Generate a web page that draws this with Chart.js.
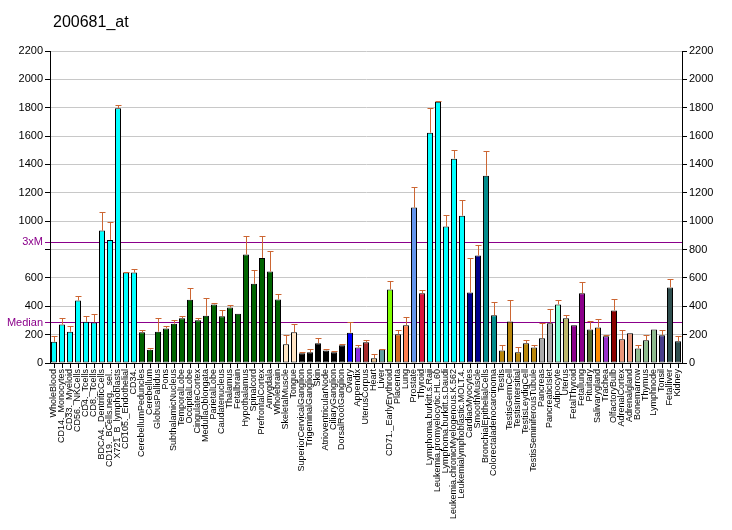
<!DOCTYPE html>
<html>
<head>
<meta charset="utf-8">
<script src="https://cdn.jsdelivr.net/npm/chart.js@4"></script>
<style>
  html, body { margin: 0; padding: 0; background: #fff; }
</style>
</head>
<body>
<canvas id="myChart" width="732" height="530"></canvas>
<script>
const chartTitle = "200681_at";

const labels = [
  "WholeBlood", "CD14._Monocytes", "CD33._Myeloid", "CD56._NKCells", "CD4._Tcells", "CD8._Tcells",
  "BDCA4._DentriticCells", "CD19._BCells.neg._sel..", "X721_B_lymphoblasts", "CD105._Endothelial", "CD34.",
  "CerebellumPeduncles", "Cerebellum", "GlobusPallidus", "Pons", "SubthalamicNucleus", "TemporalLobe",
  "OccipitalLobe", "CingulateCortex", "MedullaOblongata", "ParietalLobe", "Caudatenucleus", "Thalamus",
  "Fetalbrain", "Hypothalamus", "Spinalcord", "PrefrontalCortex", "Amygdala", "Wholebrain",
  "SkeletalMuscle", "Tongue",
  "SuperiorCervicalGanglion", "TrigeminalGanglion", "Skin", "AtrioventricularNode", "CiliaryGanglion", "DorsalRootGanglion",
  "Ovary", "Appendix", "UterusCorpus", "Heart", "Liver", "CD71._EarlyErythroid", "Placenta", "Lung", "Prostate", "Thyroid",
  "Lymphoma.burkitt.s.Raji", "Leukemia.promyelocytic.HL.60", "Lymphoma.burkitt.s.Daudi",
  "Leukemia.chronicMyelogenous.K.562", "Leukemialymphoblastic.MOLT.4.",
  "CardiacMyocytes", "SmoothMuscle", "BronchialEpithelialCells", "Colorectaladenocarcinoma",
  "Testis", "TestisGermCell", "TestisIntersitial", "TestisLeydigCell", "TestisSeminiferousTubule",
  "Pancreas", "PancreaticIslet", "Adipocyte", "Uterus", "FetalThyroid", "Fetallung", "Pituitary",
  "Salivarygland", "Trachea", "OlfactoryBulb", "AdrenalCortex", "Adrenalgland", "Bonemarrow",
  "Thymus", "Lymphnode", "Tonsil", "Fetalliver", "Kidney"
];

const values = [
  150, 272, 221, 441, 291, 286, 934, 868, 1797, 638, 638,
  216, 94, 221, 244, 277, 315, 446, 301, 333, 413, 329, 392, 347, 765, 559, 741, 645, 448,
  132, 216,
  68, 75, 139, 89, 75, 125,
  214, 110, 146, 33, 96, 519, 202, 266, 1096, 491,
  1624, 1842, 962, 1441, 1039,
  497, 758, 1321, 336,
  89, 293, 75, 139, 110,
  174, 280, 413, 315, 266, 491, 237, 251, 188, 371, 167, 209, 103, 160, 237, 195, 533, 153
];

// upper end of each error bar
const errHigh = [
  193, 320, 263, 474, 333, 348, 1065, 995, 1820, 645, 661,
  230, 108, 315, 263, 301, 333, 531, 315, 455, 422, 371, 410, 347, 896, 657, 896, 791, 488,
  195, 272,
  75, 101, 179, 96, 87, 132,
  291, 129, 165, 61, 101, 575, 230, 322, 1244, 512,
  1800, 1849, 1046, 1504, 1152,
  737, 835, 1497, 427,
  125, 441, 110, 160, 125,
  280, 378, 441, 336, 266, 568, 294, 308, 195, 448, 230, 209, 125, 195, 237, 230, 589, 188
];

const median = 283;
const threeXM = 850;
const yTicks = [0, 200, median, 400, 600, 800, threeXM, 1000, 1200, 1400, 1600, 1800, 2000, 2200];

// colour runs: [count, colour]
const colorRuns = [
  [11, "#00FFFF"], [18, "#006400"], [2, "#FFE4C4"], [6, "#000000"],
  [1, "#0000FF"], [1, "#8A2BE2"], [1, "#A52A2A"], [1, "#DEB887"], [1, "#5F9EA0"],
  [1, "#7FFF00"], [1, "#D2691E"], [1, "#FF7F50"], [1, "#6495ED"], [1, "#DC143C"],
  [5, "#00FFFF"], [2, "#00008B"], [2, "#008B8B"], [5, "#B8860B"], [2, "#A9A9A9"],
  [1, "#7FFFD4"], [1, "#BDB76B"], [2, "#8B008B"], [1, "#556B2F"], [1, "#FF8C00"],
  [1, "#9932CC"], [1, "#8B0000"], [2, "#E9967A"], [3, "#8FBC8F"], [1, "#483D8B"], [2, "#2F4F4F"]
];
const barColors = colorRuns.flatMap(([n, c]) => Array(n).fill(c));

const errColor = "#CC6633";
const refColor = "#8B008B";
const gridGray = "#C8C8C8";
const fontFam = '"Liberation Sans", Arial, sans-serif';

const isRef = v => v === median || v === threeXM;

const titlePlugin = {
  id: "plotTitle",
  afterDraw(chart) {
    const c = chart.ctx;
    c.save();
    c.font = "16px " + fontFam;
    c.fillStyle = "#000";
    c.textBaseline = "alphabetic";
    c.fillText(chartTitle, 53, 27);
    c.restore();
  }
};

const errorBars = {
  id: "errorBars",
  afterDatasetsDraw(chart) {
    const meta = chart.getDatasetMeta(0);
    const y = chart.scales.y;
    const c = chart.ctx;
    c.save();
    c.strokeStyle = errColor;
    c.lineWidth = 1;
    meta.data.forEach((bar, i) => {
      if (errHigh[i] <= values[i]) return;
      const top = Math.round(y.getPixelForValue(errHigh[i])) + 0.5;
      const x = Math.round(bar.x) + 0.5;
      c.beginPath();
      c.moveTo(x, bar.y);
      c.lineTo(x, top);
      c.moveTo(x - 3, top);
      c.lineTo(x + 3, top);
      c.stroke();
    });
    c.restore();
  }
};

const ctx = document.getElementById("myChart");

new Chart(ctx, {
  type: "bar",
  data: {
    labels: labels,
    datasets: [{
      data: values,
      backgroundColor: barColors,
      borderColor: "#000",
      borderWidth: 1,
      borderSkipped: false,
      categoryPercentage: 1,
      barPercentage: 0.75
    }]
  },
  options: {
    responsive: false,
    animation: false,
    layout: { padding: { top: 51, left: 0, right: 0, bottom: 0 } },
    plugins: {
      legend: { display: false },
      tooltip: { enabled: false }
    },
    scales: {
      x: {
        grid: { display: true, drawOnChartArea: false, offset: false, color: "#000", tickLength: 5 },
        border: { color: "#000" },
        ticks: {
          autoSkip: false, maxRotation: 90, minRotation: 90, padding: 1, color: "#000",
          font: { family: fontFam, size: 9 }
        },
        afterFit(s) { s.height = 167; }
      },
      y: {
        position: "left",
        weight: 0,
        min: 0,
        max: 2200,
        afterBuildTicks(s) { s.ticks = yTicks.map(v => ({ value: v })); },
        grid: {
          color: c => (isRef(c.tick.value) ? "rgba(0,0,0,0)" : gridGray),
          tickColor: c => (isRef(c.tick.value) ? refColor : "#000"),
          tickLength: 5
        },
        border: { color: "#000" },
        ticks: {
          autoSkip: false, padding: 2,
          color: c => (isRef(c.tick.value) ? refColor : "#000"),
          font: { family: fontFam, size: 11 },
          callback: v => (v === threeXM ? "3xM" : v === median ? "Median" : v === 800 ? "" : String(v))
        },
        afterFit(s) { s.width = 50; }
      },
      // reference lines drawn over the bars
      yRef: {
        position: "left",
        weight: -1,
        z: 1,
        min: 0,
        max: 2200,
        afterBuildTicks(s) { s.ticks = [{ value: median }, { value: threeXM }]; },
        grid: { color: refColor, drawTicks: false },
        border: { display: false },
        ticks: { display: false },
        afterFit(s) { s.width = 0; }
      },
      yRight: {
        position: "right",
        min: 0,
        max: 2200,
        grid: { drawOnChartArea: false, color: "#000", tickLength: 5 },
        border: { color: "#000" },
        ticks: {
          stepSize: 200, padding: 2, color: "#000",
          font: { family: fontFam, size: 11 },
          callback: v => String(v)
        },
        afterFit(s) { s.width = 50; }
      }
    }
  },
  plugins: [titlePlugin, errorBars]
});
</script>
</body>
</html>
